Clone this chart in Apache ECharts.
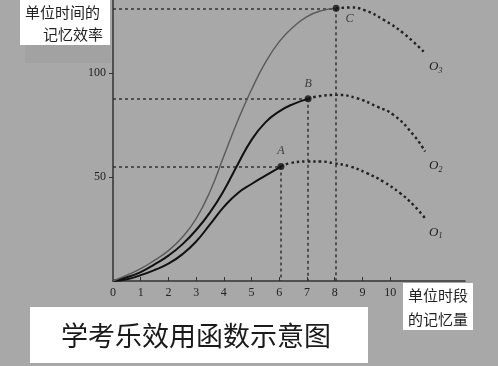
<!DOCTYPE html>
<html>
<head>
<meta charset="utf-8">
<script src="https://cdn.jsdelivr.net/npm/echarts@6/dist/echarts.min.js"></script>
<style>
  html, body { margin: 0; padding: 0; background: #a8a8a8; }
  #chart { width: 498px; height: 366px; }
</style>
</head>
<body>
<div id="chart"></div>
<script>
// 横轴：单位时段的记忆量；纵轴：单位时间的记忆效率
var xTickLabels = [0, 1, 2, 3, 4, 5, 6, 7, 8, 9, 10];
var yTickLabels = [50, 100];

// 实线部分（到 A / B / C 点为止）
var solidA = [[0, 0], [0.5, 0.8], [1, 2.8], [1.5, 5.3], [2, 8.3], [2.5, 12.8], [3, 19], [3.5, 27.2], [4, 35.6],
  [4.5, 42.2], [5, 46.6], [5.5, 50.6], [6.06, 55]];
var solidB = [[0, 0], [0.5, 1.8], [1, 4.3], [1.5, 8], [2, 12.2], [2.5, 17.6], [3, 24.5], [3.5, 33], [4, 43.5],
  [4.5, 56], [5, 67.8], [5.5, 76.2], [6, 81.5], [6.5, 85], [7.04, 87.5]];
var solidC = [[0, 0], [0.5, 2.8], [1, 5.9], [1.5, 10], [2, 14.6], [2.5, 21], [3, 30], [3.5, 43], [4, 60],
  [4.5, 77], [5, 92], [5.5, 105], [6, 115], [6.5, 122], [7, 127], [7.5, 129.8], [8.05, 131]];

// 虚线延伸部分（到 O1 / O2 / O3）
var dotA = [[6.06, 55], [6.39, 56.6], [6.99, 57.4], [7.5, 57.4], [7.95, 56.6], [8.56, 55], [9.16, 51.8],
  [9.76, 47.7], [10.36, 42.2], [10.84, 36.5], [11.26, 30.1]];
var dotB = [[7.04, 87.5], [7.35, 88.6], [8.08, 89.4], [8.8, 87.8], [9.52, 83.8], [10.12, 79.8],
  [10.84, 70.2], [11.26, 62.2]];
var dotC = [[8.05, 131], [8.56, 131.4], [9.04, 130.3], [9.76, 125.5], [10.48, 119], [11.26, 109.5]];

var pointNames = ['A', 'B', 'C'];
var endNames = ['1', '2', '3'];

var myChart = echarts.init(document.getElementById('chart'));

var serifFont = '"Liberation Serif", "DejaVu Serif", serif';
var cjkFont = '"Noto Sans CJK SC", sans-serif';

var solids = [solidA, solidB, solidC];
var dots = [dotA, dotB, dotC];
var points = solids.map(function (s) { return s[s.length - 1]; });

var series = [];

// 辅助虚线
var guideLines = [];
points.forEach(function (p) {
  guideLines.push([{ coord: [0, p[1]] }, { coord: [p[0], p[1]] }]);
  guideLines.push([{ coord: [p[0], p[1]] }, { coord: [p[0], 0] }]);
});

solids.forEach(function (s, i) {
  series.push({
    type: 'line',
    data: s,
    smooth: 0.5,
    showSymbol: false,
    z: 5,
    lineStyle: i === 2 ? { color: '#5a5a5a', width: 1.4 } : { color: '#111', width: 2 }
  });
});

dots.forEach(function (d, i) {
  series.push({
    type: 'line',
    data: d,
    smooth: 0.5,
    showSymbol: false,
    z: 4,
    lineStyle: { color: '#222', width: 2.4, type: [2.5, 3] },
    endLabel: {
      show: true,
      offset: [-4, 14],
      formatter: '{o|O}{s|' + endNames[i] + '}',
      rich: {
        o: { fontFamily: serifFont, fontStyle: 'italic', fontSize: 13, color: '#222' },
        s: { fontFamily: serifFont, fontStyle: 'italic', fontSize: 8, color: '#222', padding: [8, 0, 0, 0] }
      }
    }
  });
});

series.push({
  type: 'scatter',
  z: 6,
  symbol: 'circle',
  symbolSize: 7,
  itemStyle: { color: '#111' },
  data: points.map(function (p, i) {
    return {
      value: p,
      label: {
        show: true,
        formatter: pointNames[i],
        position: i === 2 ? 'right' : 'top',
        offset: i === 2 ? [0, 11] : [0, 0],
        distance: 6,
        fontFamily: serifFont,
        fontStyle: 'italic',
        fontSize: 12,
        color: '#222'
      }
    };
  }),
  markLine: {
    silent: true,
    symbol: 'none',
    label: { show: false },
    lineStyle: { color: '#333', width: 1.5, type: [3, 3] },
    data: guideLines
  }
});

var option = {
  backgroundColor: '#a8a8a8',
  animation: false,
  grid: { left: 113, right: 33, top: 0, bottom: 85 },
  xAxis: {
    type: 'value',
    min: 0,
    max: 12.7,
    interval: 1,
    splitLine: { show: false },
    axisLine: { lineStyle: { color: '#333', width: 1.5 } },
    axisTick: { inside: true, length: 4, lineStyle: { color: '#333' }, customValues: xTickLabels.slice(1) },
    axisLabel: { customValues: xTickLabels, margin: 6, fontFamily: serifFont, fontSize: 12, color: '#222' }
  },
  yAxis: {
    type: 'value',
    min: 0,
    max: 135,
    interval: 50,
    splitLine: { show: false },
    axisLine: { show: true, lineStyle: { color: '#333', width: 1.5 } },
    axisTick: { show: true, length: 4, lineStyle: { color: '#333' }, customValues: yTickLabels },
    axisLabel: { customValues: yTickLabels, margin: 7, fontFamily: serifFont, fontSize: 12, color: '#222' }
  },
  graphic: [
    { type: 'rect', shape: { x: 25, y: 45, width: 86, height: 18 }, style: { fill: '#a2a2a2' }, z: 1 },
    { type: 'rect', shape: { x: 20, y: 0, width: 90, height: 45 }, style: { fill: '#fff' }, z: 2 },
    { type: 'text', x: 25, y: 12, style: { text: '单位时间的', font: '15px ' + cjkFont, fill: '#222', verticalAlign: 'middle' }, z: 3 },
    { type: 'text', x: 103, y: 34, style: { text: '记忆效率', font: '15px ' + cjkFont, fill: '#222', align: 'right', verticalAlign: 'middle' }, z: 3 },
    { type: 'rect', shape: { x: 403, y: 283, width: 70, height: 47 }, style: { fill: '#fff' }, z: 2 },
    { type: 'text', x: 408, y: 295, style: { text: '单位时段', font: '15px ' + cjkFont, fill: '#222', verticalAlign: 'middle' }, z: 3 },
    { type: 'text', x: 408, y: 319, style: { text: '的记忆量', font: '15px ' + cjkFont, fill: '#222', verticalAlign: 'middle' }, z: 3 },
    { type: 'rect', shape: { x: 30, y: 307, width: 338, height: 56 }, style: { fill: '#fff' }, z: 2 },
    { type: 'text', x: 196, y: 336, style: { text: '学考乐效用函数示意图', font: '27px ' + cjkFont, fill: '#1a1a1a', align: 'center', verticalAlign: 'middle' }, z: 3 }
  ],
  series: series
};

myChart.setOption(option);
</script>
</body>
</html>
